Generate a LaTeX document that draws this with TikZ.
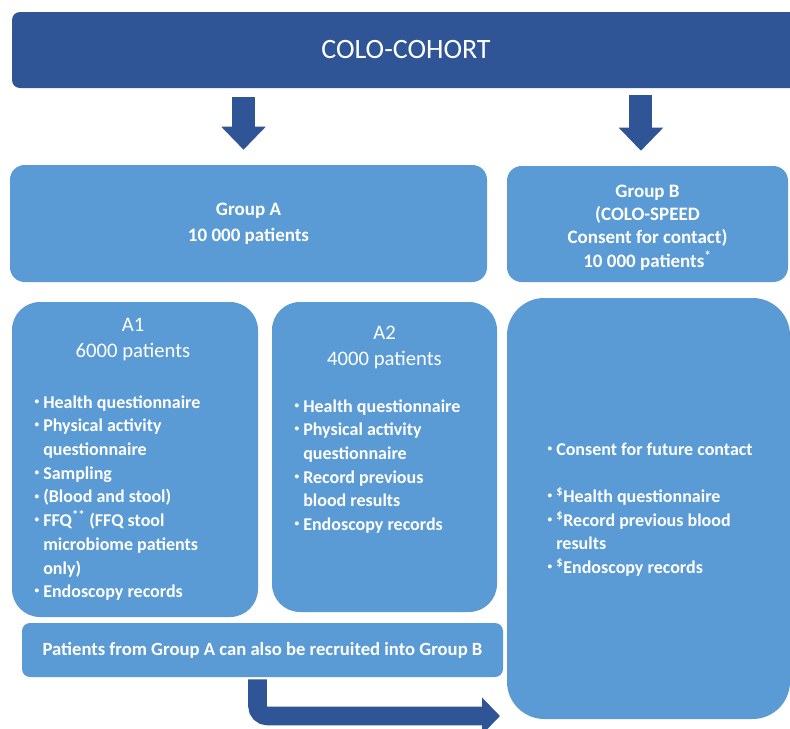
\documentclass[tikz,border=0pt]{standalone}
\usepackage{fontspec}
\setmainfont{Carlito}
\usepackage{tikz}
\usetikzlibrary{arrows.meta}
\definecolor{cohortblue}{HTML}{2F5597}
\definecolor{groupblue}{HTML}{5B9BD5}
\newcommand{\itm}{\makebox[7.5pt][l]{\hspace*{1pt}\raisebox{0.45ex}{\fontsize{7}{7}\selectfont\textbullet}}}
\newcommand{\cnt}{\hspace*{7.5pt}}

\begin{document}
\begin{tikzpicture}[x=0.75pt, y=-0.75pt,
    box/.style={fill=groupblue, draw=none, inner sep=0pt, text=white, align=center},
    headtext/.style={text=white, align=center, inner sep=0pt, font=\fontsize{15.5}{19.5}\selectfont},
    listtext/.style={text=white, inner sep=0pt, font=\bfseries\fontsize{13.5}{17.8}\selectfont},
    downarrow/.style={cohortblue, line width=17.25pt, -{Triangle[length=17.25pt, width=32.25pt]}},
    bentarrow/.style={cohortblue, line width=13.9pt, rounded corners=7.5pt, -{Triangle[length=13.5pt, width=27pt]}}]
        \useasboundingbox (0,0) rectangle (790,729);
        \clip (0,0) rectangle (790,729);
        \fill[white] (0,0) rectangle (790,729);

        % top banner
        \node[box, fill=cohortblue, rounded corners=6pt, minimum width=591pt, minimum height=57pt,
              font=\fontsize{21}{25}\selectfont] (banner) at (406,50) {COLO-COHORT};

        % groups
        \node[box, rounded corners=11pt, minimum width=357.75pt, minimum height=87.75pt,
              font=\bfseries\fontsize{14.25}{19.5}\selectfont] (grpA) at (248.5,223.5)
              {Group A\\10 000 patients};
        \node[box, rounded corners=11pt, minimum width=210.75pt, minimum height=87pt,
              font=\bfseries\fontsize{14.25}{17.6}\selectfont] (grpB) at (647.5,224)
              {\\[-3pt]Group B\\(COLO-SPEED\\Consent for contact)\\10 000 patients\textsuperscript{*}};

        \draw[downarrow, shorten <=6.75pt, shorten >=11.25pt] ([xshift=-3.75pt]banner.south -| grpA.north) -- ([xshift=-3.75pt]grpA.north);
        \draw[downarrow, shorten <=5.25pt, shorten >=11.25pt] ([xshift=-4.9pt]banner.south -| grpB.north) -- ([xshift=-4.9pt]grpB.north);

        % subgroups
        \node[box, rounded corners=21pt, minimum width=184.5pt, minimum height=236.25pt] (A1) at (135,459.5) {};
        \node[box, rounded corners=21pt, minimum width=168.75pt, minimum height=232.5pt] (A2) at (384.5,457) {};
        \node[box, rounded corners=28pt, minimum width=212.25pt, minimum height=315.75pt] (Bbox) at (648.5,508.5) {};

        \node[headtext] (A1head) at (133,340) {A1\\6000 patients};
        \node[headtext] (A2head) at (384.5,347.5) {A2\\4000 patients};

        \node[listtext, anchor=base west] (A1list) at (33,408) {\begin{tabular}[t]{@{}l@{}}
            \itm Health questionnaire\\
            \itm Physical activity\\
            \cnt questionnaire\\
            \itm Sampling\\
            \itm (Blood and stool)\\
            \itm FFQ\textsuperscript{**} (FFQ stool\\
            \cnt microbiome patients\\
            \cnt only)\\
            \itm Endoscopy records
        \end{tabular}};
        \node[listtext, anchor=base west] (A2list) at (293,412) {\begin{tabular}[t]{@{}l@{}}
            \itm Health questionnaire\\
            \itm Physical activity\\
            \cnt questionnaire\\
            \itm Record previous\\
            \cnt blood results\\
            \itm Endoscopy records
        \end{tabular}};
        \node[listtext, anchor=base west] (Blist) at (546,455) {\begin{tabular}[t]{@{}l@{}}
            \itm Consent for future contact\\
            \\
            \itm \textsuperscript{\$}Health questionnaire\\
            \itm \textsuperscript{\$}Record previous blood\\
            \cnt results\\
            \itm \textsuperscript{\$}Endoscopy records
        \end{tabular}};

        % recruitment from A into B
        \node[box, rounded corners=6pt, minimum width=360.75pt, minimum height=40.5pt,
              font=\bfseries\fontsize{14}{17}\selectfont] (recruit) at (262.5,650)
              {Patients from Group A can also be recruited into Group B};
        \coordinate (recruitend) at (500,716);
        \draw[bentarrow, shorten <=1.5pt] ([xshift=-3.75pt]recruit.south) |- (recruitend);
\end{tikzpicture}
\end{document}
